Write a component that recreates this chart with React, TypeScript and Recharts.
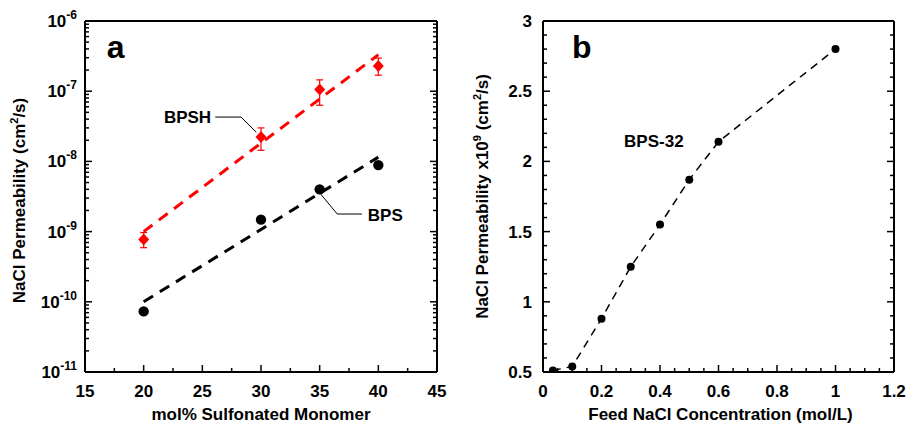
import React from 'react';
import {
  ScatterChart,
  Scatter,
  XAxis,
  YAxis,
  ErrorBar,
  ReferenceLine,
  ReferenceDot,
  Label,
} from 'recharts';

const FONT = '"Liberation Sans", Arial, Helvetica, sans-serif';
const RED = '#ff0000';

// ---- panel a: permeability vs sulfonation ----
const monomerPct = [20, 30, 35, 40];
const bpsPerm = [7.3e-11, 1.48e-9, 4.0e-9, 8.85e-9];
const bpshPerm = [7.7e-10, 2.22e-8, 1.06e-7, 2.28e-7];
const bpshLow = [5.9e-10, 1.44e-8, 6.3e-8, 1.69e-7];
const bpshHigh = [9.7e-10, 3.0e-8, 1.45e-7, 2.96e-7];
const fitPct = [20, 40];
const bpsFit = [1.0e-10, 1.15e-8];
const bpshFit = [1.0e-9, 3.3e-7];
const monomerTicks = [15, 20, 25, 30, 35, 40, 45];
const permDecades = [1e-11, 1e-10, 1e-9, 1e-8, 1e-7, 1e-6];
const decadeExps = ['-11', '-10', '-9', '-8', '-7', '-6'];

// ---- panel b: permeability vs feed concentration ----
const feedConc = [0.034, 0.1, 0.2, 0.3, 0.4, 0.5, 0.6, 1.0];
const bps32Perm = [0.51, 0.54, 0.88, 1.25, 1.55, 1.87, 2.14, 2.8];
const concTicks = [0, 0.2, 0.4, 0.6, 0.8, 1, 1.2];
const concLabels = ['0', '0.2', '0.4', '0.6', '0.8', '1', '1.2'];
const permTicks = [0.5, 1, 1.5, 2, 2.5, 3];
const permLabels = ['0.5', '1', '1.5', '2', '2.5', '3'];

// minor tick positions
const monomerMinor = monomerTicks.slice(0, -1).map((v) => v + 2.5);
const decadeMinor = permDecades
  .slice(0, -1)
  .flatMap((d) => [2, 3, 4, 5, 6, 7, 8, 9].map((k) => k * d));
const concMinor = Array.from({ length: 25 }, (_, i) => Math.round(i * 5) / 100);
const permMinor = Array.from({ length: 26 }, (_, i) => Math.round(5 + i) / 10);

const bpsData = monomerPct.map((x, i) => ({ x, y: bpsPerm[i] }));
const bpshData = monomerPct.map((x, i) => ({
  x,
  y: bpshPerm[i],
  err: [bpshPerm[i] - bpshLow[i], bpshHigh[i] - bpshPerm[i]],
}));
const bpsFitData = fitPct.map((x, i) => ({ x, y: bpsFit[i] }));
const bpshFitData = fitPct.map((x, i) => ({ x, y: bpshFit[i] }));
const concData = feedConc.map((x, i) => ({ x, y: bps32Perm[i] }));

const isDecade = (v: number) => Math.abs(Math.log10(v) - Math.round(Math.log10(v))) < 1e-6;

type Side = 'bottom' | 'top' | 'left' | 'right';

const makeTick =
  (
    side: Side,
    isMajor: (v: number) => boolean,
    label?: (v: number, x: number, y: number) => React.ReactNode
  ) =>
  (props: any) => {
    const { x, y, payload } = props;
    const v = payload.value;
    const major = isMajor(v);
    const len = major ? 7 : 4;
    let x2 = x;
    let y2 = y;
    if (side === 'bottom') y2 = y - len;
    if (side === 'top') y2 = y + len;
    if (side === 'left') x2 = x + len;
    if (side === 'right') x2 = x - len;
    return (
      <g>
        <line x1={x} y1={y} x2={x2} y2={y2} stroke="#000" strokeWidth={1.5} />
        {major && label ? label(v, x, y) : null}
      </g>
    );
  };

const txt = { fontFamily: FONT, fontWeight: 700, fill: '#000' } as const;

const bottomLabel = (list: number[], labels: string[]) => (v: number, x: number, y: number) => {
  const i = list.findIndex((t) => Math.abs(t - v) < 1e-9);
  return (
    <text x={x} y={y + 25} textAnchor="middle" fontSize={17} {...txt}>
      {labels[i]}
    </text>
  );
};

const logLabel = (v: number, x: number, y: number) => {
  const i = permDecades.findIndex((d) => Math.abs(Math.log10(d) - Math.log10(v)) < 1e-6);
  return (
    <text x={x - 8} y={y + 6} textAnchor="end" fontSize={17} {...txt}>
      10
      <tspan dy={-8} fontSize={12}>
        {decadeExps[i]}
      </tspan>
    </text>
  );
};

const linLabel = (v: number, x: number, y: number) => {
  const i = permTicks.findIndex((t) => Math.abs(t - v) < 1e-9);
  return (
    <text x={x - 11} y={y + 6} textAnchor="end" fontSize={17} {...txt}>
      {permLabels[i]}
    </text>
  );
};

const axisLine = { stroke: '#000', strokeWidth: 2 };

const Diamond = (p: any) => (
  <polygon
    points={`${p.cx},${p.cy - 6} ${p.cx + 5.5},${p.cy} ${p.cx},${p.cy + 6} ${p.cx - 5.5},${p.cy}`}
    fill={RED}
  />
);
const BigDot = (p: any) => <circle cx={p.cx} cy={p.cy} r={5.2} fill="#000" />;
const SmallDot = (p: any) => <circle cx={p.cx} cy={p.cy} r={4} fill="#000" />;
const NoMark = () => <g />;

const textMark = (s: string, anchor: 'start' | 'end' | 'middle', size: number, dy: number) => (p: any) =>
  (
    <text x={p.cx} y={p.cy + dy} textAnchor={anchor} fontSize={size} {...txt}>
      {s}
    </text>
  );

const PanelA = () => {
  const xTicks = [...monomerTicks, ...monomerMinor];
  const yTicks = [...permDecades, ...decadeMinor];
  const xMajor = (v: number) => monomerTicks.some((t) => Math.abs(t - v) < 1e-9);
  return (
    <ScatterChart width={453} height={423} margin={{ top: 0, right: 0, bottom: 0, left: 0 }}>
      <XAxis
        dataKey="x"
        type="number"
        domain={[15, 45]}
        ticks={xTicks}
        interval={0}
        allowDataOverflow
        height={51}
        tickSize={0}
        tickMargin={0}
        tickLine={false}
        axisLine={axisLine}
        tick={makeTick('bottom', xMajor, bottomLabel(monomerTicks, monomerTicks.map(String)))}
      >
        <Label
          content={(p: any) => {
            const vb = p.viewBox;
            return (
              <text x={vb.x + vb.width / 2} y={vb.y + 48} textAnchor="middle" fontSize={17} {...txt}>
                mol% Sulfonated Monomer
              </text>
            );
          }}
        />
      </XAxis>
      <XAxis
        xAxisId="top"
        orientation="top"
        type="number"
        domain={[15, 45]}
        ticks={xTicks}
        interval={0}
        allowDataOverflow
        height={21}
        tickSize={0}
        tickMargin={0}
        tickLine={false}
        axisLine={axisLine}
        tick={makeTick('top', xMajor)}
      />
      <YAxis
        dataKey="y"
        type="number"
        scale="log"
        domain={[1e-11, 1e-6]}
        ticks={yTicks}
        interval={0}
        allowDataOverflow
        width={85}
        tickSize={0}
        tickMargin={0}
        tickLine={false}
        axisLine={axisLine}
        tick={makeTick('left', isDecade, logLabel)}
      >
        <Label
          content={(p: any) => {
            const vb = p.viewBox;
            return (
              <text
                transform={`translate(${vb.x + 25},${vb.y + vb.height / 2 + 4}) rotate(-90)`}
                textAnchor="middle"
                fontSize={17}
                {...txt}
              >
                NaCl Permeability (cm
                <tspan dy={-7} fontSize={11}>
                  2
                </tspan>
                <tspan dy={7}>/s)</tspan>
              </text>
            );
          }}
        />
      </YAxis>
      <YAxis
        yAxisId="right"
        orientation="right"
        type="number"
        scale="log"
        domain={[1e-11, 1e-6]}
        ticks={yTicks}
        interval={0}
        allowDataOverflow
        width={16}
        tickSize={0}
        tickMargin={0}
        tickLine={false}
        axisLine={axisLine}
        tick={makeTick('right', isDecade)}
      />

      <Scatter
        data={bpshFitData}
        shape={NoMark}
        line={{ stroke: RED, strokeWidth: 3, strokeDasharray: '11 8' }}
        isAnimationActive={false}
      />
      <Scatter
        data={bpsFitData}
        shape={NoMark}
        line={{ stroke: '#000', strokeWidth: 3, strokeDasharray: '11 8' }}
        isAnimationActive={false}
      />
      <Scatter data={bpshData} shape={Diamond} isAnimationActive={false}>
        <ErrorBar dataKey="err" direction="y" width={3.5} stroke={RED} strokeWidth={1.2} />
      </Scatter>
      <Scatter data={bpsData} shape={BigDot} isAnimationActive={false} />

      <ReferenceLine segment={[{ x: 26.1, y: 4.28e-8 }, { x: 28.3, y: 4.28e-8 }]} stroke="#000" strokeWidth={1} />
      <ReferenceLine segment={[{ x: 28.3, y: 4.28e-8 }, { x: 29.6, y: 2.6e-8 }]} stroke="#000" strokeWidth={1} />
      <ReferenceLine segment={[{ x: 35.1, y: 3.4e-9 }, { x: 36.5, y: 1.78e-9 }]} stroke="#000" strokeWidth={1} />
      <ReferenceLine segment={[{ x: 36.5, y: 1.78e-9 }, { x: 38.6, y: 1.78e-9 }]} stroke="#000" strokeWidth={1} />

      <ReferenceDot x={25.75} y={4.28e-8} r={0} shape={textMark('BPSH', 'end', 17, 6)} />
      <ReferenceDot x={39.1} y={1.7e-9} r={0} shape={textMark('BPS', 'start', 17, 6)} />
      <ReferenceDot x={16.85} y={4.1e-7} r={0} shape={textMark('a', 'start', 32, 10)} />
    </ScatterChart>
  );
};

const PanelB = () => {
  const xTicks = [...concMinor];
  const yTicks = [...permMinor];
  const xMajor = (v: number) => concTicks.some((t) => Math.abs(t - v) < 1e-9);
  const yMajor = (v: number) => permTicks.some((t) => Math.abs(t - v) < 1e-9);
  return (
    <ScatterChart width={454} height={423} margin={{ top: 0, right: 0, bottom: 0, left: 0 }}>
      <XAxis
        dataKey="x"
        type="number"
        domain={[0, 1.2]}
        ticks={xTicks}
        interval={0}
        allowDataOverflow
        height={51}
        tickSize={0}
        tickMargin={0}
        tickLine={false}
        axisLine={axisLine}
        tick={makeTick('bottom', xMajor, bottomLabel(concTicks, concLabels))}
      >
        <Label
          content={(p: any) => {
            const vb = p.viewBox;
            return (
              <text x={vb.x + vb.width / 2 + 2} y={vb.y + 48} textAnchor="middle" fontSize={17} {...txt}>
                Feed NaCl Concentration (mol/L)
              </text>
            );
          }}
        />
      </XAxis>
      <XAxis
        xAxisId="top"
        orientation="top"
        type="number"
        domain={[0, 1.2]}
        ticks={xTicks}
        interval={0}
        allowDataOverflow
        height={21}
        tickSize={0}
        tickMargin={0}
        tickLine={false}
        axisLine={axisLine}
        tick={makeTick('top', xMajor)}
      />
      <YAxis
        dataKey="y"
        type="number"
        domain={[0.5, 3]}
        ticks={yTicks}
        interval={0}
        allowDataOverflow
        width={90}
        tickSize={0}
        tickMargin={0}
        tickLine={false}
        axisLine={axisLine}
        tick={makeTick('left', yMajor, linLabel)}
      >
        <Label
          content={(p: any) => {
            const vb = p.viewBox;
            return (
              <text
                transform={`translate(${vb.x + 35},${vb.y + vb.height / 2}) rotate(-90)`}
                textAnchor="middle"
                fontSize={17}
                {...txt}
              >
                NaCl Permeability x10
                <tspan dy={-7} fontSize={11}>
                  9
                </tspan>
                <tspan dy={7}> (cm</tspan>
                <tspan dy={-7} fontSize={11}>
                  2
                </tspan>
                <tspan dy={7}>/s)</tspan>
              </text>
            );
          }}
        />
      </YAxis>
      <YAxis
        yAxisId="right"
        orientation="right"
        type="number"
        domain={[0.5, 3]}
        ticks={yTicks}
        interval={0}
        allowDataOverflow
        width={13}
        tickSize={0}
        tickMargin={0}
        tickLine={false}
        axisLine={axisLine}
        tick={makeTick('right', yMajor)}
      />

      <Scatter
        data={concData}
        shape={SmallDot}
        line={{ stroke: '#000', strokeWidth: 1.5, strokeDasharray: '8 6' }}
        isAnimationActive={false}
      />

      <ReferenceDot x={0.379} y={2.145} r={0} shape={textMark('BPS-32', 'middle', 17, 6)} />
      <ReferenceDot x={0.099} y={2.81} r={0} shape={textMark('b', 'start', 32, 10)} />
    </ScatterChart>
  );
};

export default function App() {
  return (
    <div style={{ position: 'absolute', left: 0, top: 0, width: 907, height: 423, background: '#fff' }}>
      <div style={{ position: 'absolute', left: 0, top: 0 }}>
        <PanelA />
      </div>
      <div style={{ position: 'absolute', left: 453, top: 0 }}>
        <PanelB />
      </div>
    </div>
  );
}
